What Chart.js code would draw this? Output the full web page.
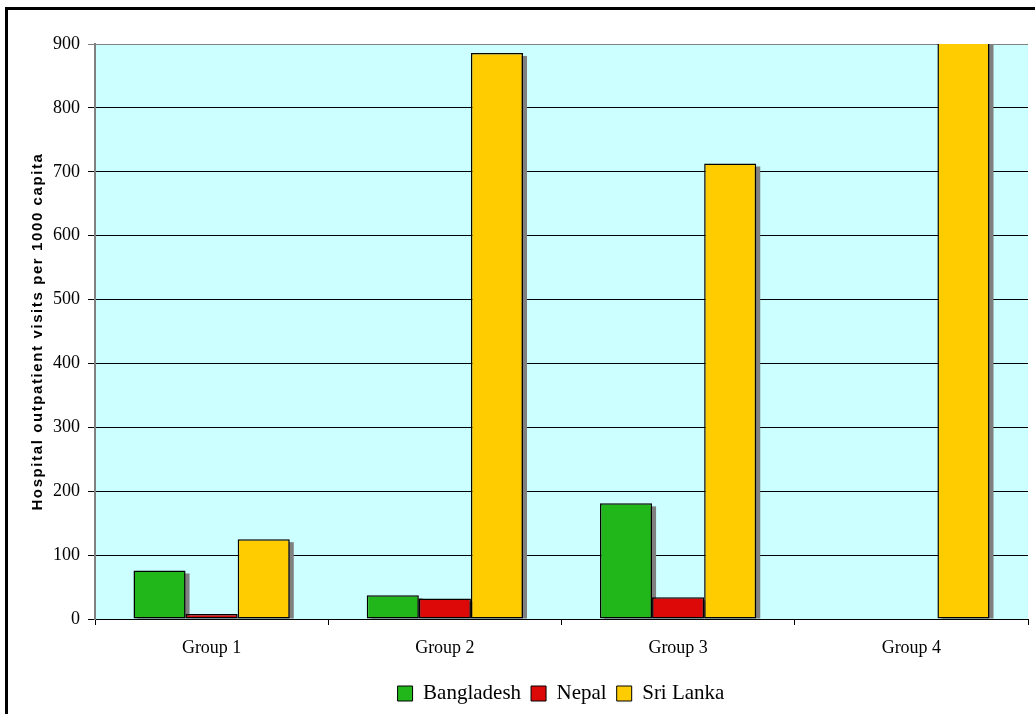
<!DOCTYPE html>
<html>
<head>
<meta charset="utf-8">
<script src="https://cdn.jsdelivr.net/npm/chart.js@4.4.0/dist/chart.umd.min.js"></script>
<style>
    html, body { margin: 0; padding: 0; background: #fff; }
    #wrap { position: relative; width: 1035px; height: 714px; overflow: hidden; }
    #frame { position: absolute; left: 5px; top: 7px; right: -10px; bottom: -10px; border-left: 3px solid #000; border-top: 3px solid #000; pointer-events: none; }
    canvas { position: absolute; left: 0; top: 0; }
</style>
</head>
<body>
<div id="wrap">
    <!-- the sheet runs past the right edge, so the canvas is wider than the view -->
    <canvas id="chart" width="1122" height="714"></canvas>
    <div id="frame"></div>
</div>
<script>
const groups = ['Group 1', 'Group 2', 'Group 3', 'Group 4'];
const bangladesh = [76, 37, 181, null];
const nepal = [8, 32, 34, null];
const sriLanka = [125, 886, 713, 960];
const yTicks = [0, 100, 200, 300, 400, 500, 600, 700, 800, 900];
const yTitle = 'Hospital outpatient visits per 1000 capita';

const serif = '"Liberation Serif", "Times New Roman", serif';

// cyan plot background, drawn under the grid
const plotBackground = {
    id: 'plotBackground',
    beforeDraw(chart) {
        const { ctx, chartArea: a } = chart;
        ctx.save();
        ctx.fillStyle = '#CCFFFF';
        ctx.fillRect(a.left, a.top, a.right - a.left, a.bottom - a.top);
        ctx.restore();
    }
};

// grey drop shadow behind every bar
const barShadow = {
    id: 'barShadow',
    beforeDatasetsDraw(chart) {
        const { ctx, chartArea: a } = chart;
        ctx.save();
        ctx.beginPath();
        ctx.rect(a.left, a.top, a.right - a.left, a.bottom - a.top);
        ctx.clip();
        ctx.fillStyle = '#808080';
        chart.data.datasets.forEach((ds, i) => {
            chart.getDatasetMeta(i).data.forEach(bar => {
                if (bar.skip || bar.y == null || isNaN(bar.y)) return;
                const w = bar.width;
                ctx.fillRect(bar.x - w / 2 + 4, bar.y + 3, w, bar.base - bar.y - 3);
            });
        });
        ctx.restore();
    }
};

// rotated axis title, drawn by hand so it can be letter-spaced
const axisTitle = {
    id: 'axisTitle',
    afterDraw(chart) {
        const { ctx, chartArea: a } = chart;
        ctx.save();
        ctx.translate(38, (a.top + a.bottom) / 2);
        ctx.rotate(-Math.PI / 2);
        ctx.font = 'bold 15px "Liberation Sans", Arial, sans-serif';
        ctx.letterSpacing = '1.6px';
        ctx.fillStyle = '#000';
        ctx.textAlign = 'center';
        ctx.textBaseline = 'middle';
        ctx.fillText(yTitle, 0, 0);
        ctx.restore();
    }
};

new Chart(document.getElementById('chart'), {
    type: 'bar',
    data: {
        labels: groups,
        datasets: [
            { label: 'Bangladesh', data: bangladesh, backgroundColor: '#21B61A' },
            { label: 'Nepal', data: nepal, backgroundColor: '#DD0808' },
            { label: 'Sri Lanka', data: sriLanka, backgroundColor: '#FFCC00' }
        ]
    },
    options: {
        responsive: false,
        animation: false,
        layout: { padding: { left: 0, top: 44, right: 0, bottom: 0 } },
        datasets: {
            bar: { borderColor: '#000', borderWidth: 1.5, borderSkipped: false, categoryPercentage: 0.67, barPercentage: 1 }
        },
        plugins: {
            tooltip: { enabled: false },
            legend: {
                position: 'bottom',
                labels: {
                    color: '#000',
                    font: { family: serif, size: 21 },
                    boxWidth: 15,
                    boxHeight: 15,
                    padding: 10,
                    generateLabels(chart) {
                        return chart.data.datasets.map((ds, i) => ({
                            text: ds.label,
                            fillStyle: ds.backgroundColor,
                            strokeStyle: '#000',
                            lineWidth: 1,
                            datasetIndex: i,
                            fontColor: '#000'
                        }));
                    }
                }
            }
        },
        scales: {
            x: {
                afterFit(scale) { scale.height = 54; },
                grid: { drawOnChartArea: false, color: '#000', tickLength: 6, offset: true },
                border: { color: '#000', width: 1 },
                ticks: { color: '#000', font: { family: serif, size: 18 }, padding: 12, maxRotation: 0 }
            },
            y: {
                min: 0,
                max: 900,
                afterFit(scale) { scale.width = 95; },
                afterBuildTicks(scale) { scale.ticks = yTicks.map(v => ({ value: v })); },
                grid: {
                    color: ctx => (ctx.tick && ctx.tick.value === 900 ? '#808080' : '#000'),
                    lineWidth: 1,
                    tickLength: 7
                },
                border: { color: '#808080', width: 2 },
                ticks: { color: '#000', font: { family: serif, size: 18 }, padding: 8 }
            },
            // empty strip on the right so the legend centres under the plot
            spacer: {
                type: 'linear',
                position: 'right',
                afterFit(scale) { scale.width = 94; },
                grid: { display: false },
                border: { display: false },
                ticks: { display: false }
            }
        }
    },
    plugins: [plotBackground, barShadow, axisTitle]
});
</script>
</body>
</html>
